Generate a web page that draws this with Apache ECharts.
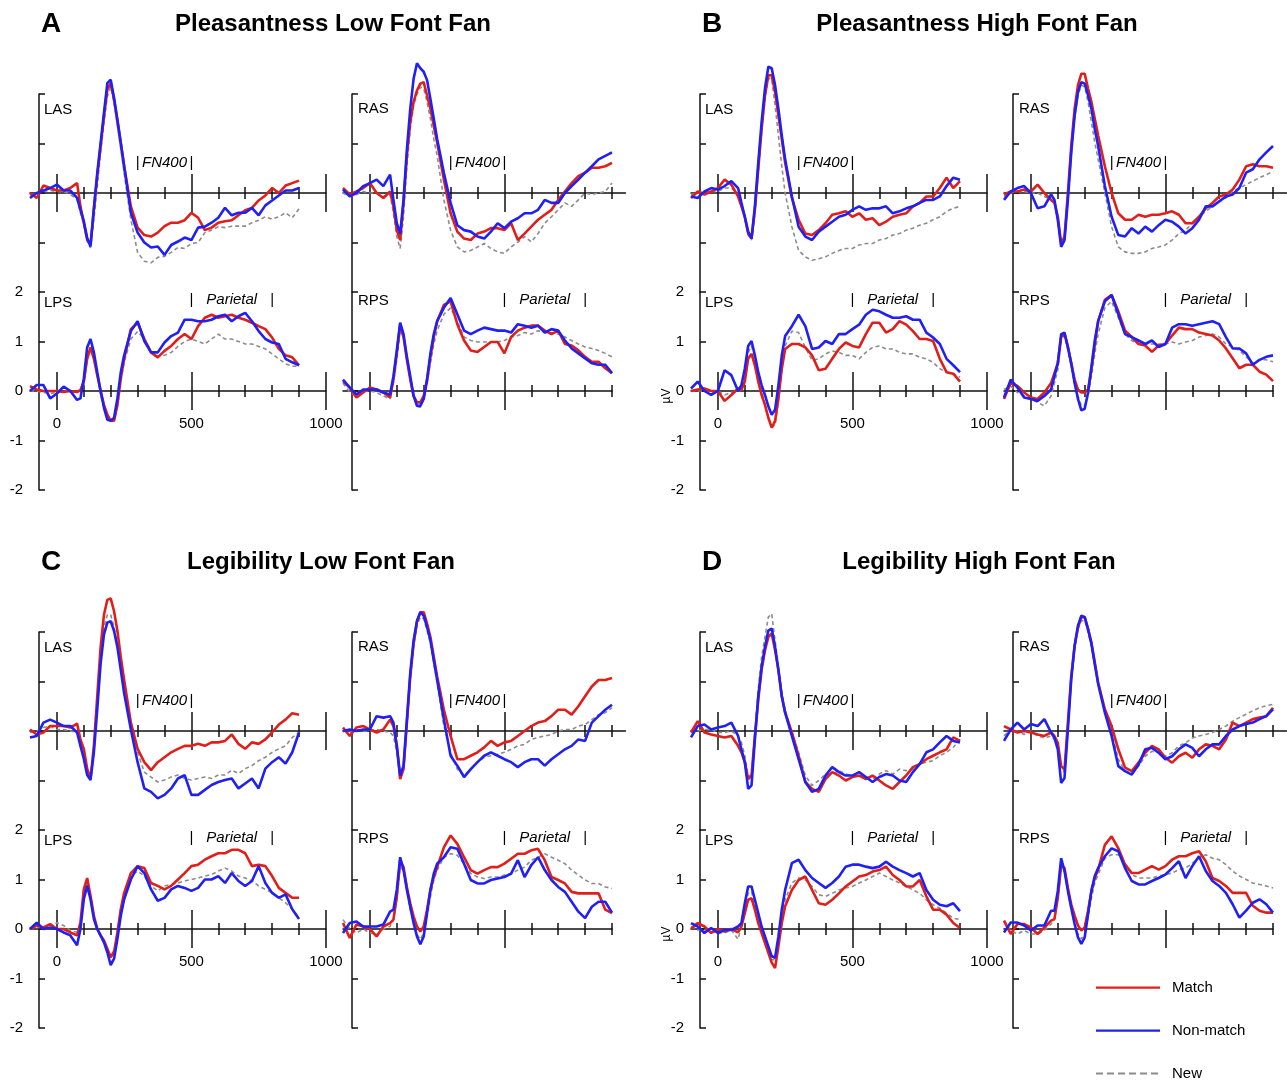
<!DOCTYPE html>
<html>
<head>
<meta charset="utf-8">
<style>
html, body { margin: 0; padding: 0; background: #fff; }
#chart { width: 1287px; height: 1085px; }
</style>
<script src="https://cdn.jsdelivr.net/npm/echarts@6/dist/echarts.min.js"></script>
</head>
<body>
<div id="chart"></div>
<script>
// time points (ms), denser around the early peaks
const ms = [-100, -75, -50, -25, 0, 25, 50, 75,
  87.5, 100, 112.5, 125, 137.5, 150, 162.5, 175, 187.5, 200, 212.5, 225, 237.5, 250,
  275, 300, 325, 350, 375, 400, 425, 450, 475, 500, 525, 550, 575, 600, 625, 650, 675, 700, 725, 750, 775, 800, 825, 850, 875, 900];

// A - Pleasantness Low Font Fan (µV)
const aLasMatch = [0.0, -0.1, 0.15, 0.1, 0.05, 0.05, 0.1, 0.2,
  -0.27, -0.6, -0.94, -1.04, -0.34, 0.34, 0.94, 1.55, 2.09, 2.22, 1.89, 1.45, 1.01, 0.54,
  -0.27, -0.7, -0.85, -0.88, -0.8, -0.67, -0.6, -0.6, -0.55, -0.4, -0.5, -0.75, -0.7, -0.6, -0.57, -0.55, -0.45, -0.35, -0.3, -0.15, -0.05, 0.1, 0.0, 0.15, 0.2, 0.25];
const aLasNon = [-0.1, 0.0, 0.05, 0.1, 0.17, 0.05, 0.05, -0.1,
  -0.34, -0.57, -0.91, -1.08, -0.3, 0.4, 1.01, 1.62, 2.22, 2.29, 1.92, 1.48, 1.01, 0.54,
  -0.4, -0.8, -1.0, -1.1, -1.08, -1.25, -1.05, -0.98, -0.9, -0.95, -0.7, -0.68, -0.6, -0.5, -0.3, -0.45, -0.4, -0.4, -0.3, -0.45, -0.25, -0.15, -0.05, 0.05, 0.05, 0.1];
const aLasNew = [-0.05, 0.0, 0.03, 0.05, 0.03, 0.03, -0.03, -0.13,
  -0.4, -0.64, -0.98, -1.11, -0.54, 0.13, 0.81, 1.41, 1.95, 2.14, 1.82, 1.35, 0.88, 0.4,
  -0.54, -1.2, -1.38, -1.41, -1.3, -1.28, -1.2, -1.1, -1.12, -1.02, -1.0, -0.8, -0.75, -0.68, -0.7, -0.67, -0.67, -0.67, -0.6, -0.55, -0.48, -0.53, -0.48, -0.4, -0.5, -0.32];
const aLpsMatch = [0.1, 0.03, 0.0, 0.0, 0.0, -0.02, 0.0, -0.02,
  0.02, 0.19, 0.65, 0.88, 0.65, 0.32, 0.0, -0.28, -0.48, -0.6, -0.6, -0.28, 0.25, 0.65,
  1.25, 1.38, 1.05, 0.78, 0.68, 0.81, 0.91, 1.05, 1.15, 1.05, 1.31, 1.48, 1.54, 1.48, 1.51, 1.54, 1.48, 1.44, 1.38, 1.31, 1.25, 1.08, 0.85, 0.72, 0.68, 0.52];
const aLpsNon = [0.0, 0.12, 0.12, -0.15, -0.05, 0.09, 0.0, -0.18,
  -0.15, 0.25, 0.88, 1.05, 0.78, 0.38, 0.0, -0.34, -0.58, -0.6, -0.54, -0.15, 0.38, 0.72,
  1.21, 1.41, 1.01, 0.78, 0.78, 0.98, 1.11, 1.18, 1.44, 1.44, 1.41, 1.41, 1.44, 1.51, 1.54, 1.41, 1.51, 1.58, 1.41, 1.21, 1.05, 0.98, 0.95, 0.65, 0.58, 0.52];
const aLpsNew = [0.0, 0.0, -0.03, -0.05, -0.03, 0.0, 0.0, -0.03,
  0.0, 0.12, 0.65, 0.88, 0.65, 0.32, -0.08, -0.34, -0.51, -0.6, -0.6, -0.31, 0.19, 0.58,
  1.05, 1.2, 1.05, 0.8, 0.7, 0.72, 0.78, 0.9, 1.0, 1.05, 1.0, 0.95, 1.05, 1.15, 1.05, 1.05, 1.0, 0.95, 0.95, 0.9, 0.85, 0.75, 0.65, 0.55, 0.5, 0.5];
const aRasMatch = [0.1, -0.03, 0.03, 0.1, 0.2, 0.0, -0.1, 0.03,
  -0.27, -0.75, -0.95, -0.2, 0.75, 1.43, 1.84, 2.07, 2.21, 2.24, 1.97, 1.7, 1.36, 1.02,
  0.27, -0.41, -0.78, -0.92, -0.95, -0.82, -0.78, -0.71, -0.71, -0.75, -0.61, -0.95, -0.82, -0.68, -0.54, -0.44, -0.34, -0.14, 0.03, 0.2, 0.34, 0.41, 0.51, 0.51, 0.54, 0.61];
const aRasNon = [0.07, -0.07, 0.0, 0.14, 0.2, 0.27, 0.14, 0.37,
  -0.14, -0.61, -0.82, -0.14, 0.88, 1.7, 2.31, 2.62, 2.52, 2.45, 2.28, 1.9, 1.5, 1.09,
  0.41, -0.2, -0.65, -0.75, -0.78, -0.88, -0.92, -0.78, -0.61, -0.71, -0.58, -0.51, -0.41, -0.41, -0.34, -0.14, -0.2, -0.2, 0.0, 0.14, 0.27, 0.41, 0.54, 0.68, 0.75, 0.82];
const aRasNew = [0.0, -0.07, -0.03, 0.03, 0.0, 0.0, -0.07, -0.03,
  -0.41, -0.88, -1.12, -0.48, 0.54, 1.29, 1.77, 2.0, 2.14, 2.11, 1.84, 1.5, 1.09, 0.75,
  -0.14, -0.75, -1.09, -1.19, -1.16, -1.09, -1.02, -1.12, -1.19, -1.22, -1.09, -0.99, -0.88, -0.99, -0.82, -0.61, -0.48, -0.34, -0.2, -0.27, -0.14, 0.0, -0.03, 0.0, 0.03, 0.2];
const aRpsMatch = [0.2, 0.07, -0.13, -0.03, 0.07, 0.03, -0.03, -0.13,
  0.23, 0.76, 1.35, 1.09, 0.63, 0.23, -0.1, -0.23, -0.23, -0.1, 0.23, 0.69, 1.09, 1.41,
  1.74, 1.81, 1.35, 1.02, 0.82, 0.79, 0.89, 0.99, 0.99, 0.76, 1.09, 1.22, 1.28, 1.32, 1.32, 1.22, 1.15, 1.22, 0.95, 0.92, 0.82, 0.69, 0.59, 0.59, 0.46, 0.36];
const aRpsNon = [0.23, 0.07, -0.07, 0.03, 0.03, 0.03, -0.03, -0.07,
  0.3, 0.82, 1.38, 1.15, 0.69, 0.3, -0.1, -0.3, -0.3, -0.16, 0.23, 0.76, 1.15, 1.41,
  1.68, 1.88, 1.55, 1.22, 1.15, 1.22, 1.28, 1.25, 1.22, 1.22, 1.18, 1.35, 1.32, 1.28, 1.32, 1.18, 1.25, 1.22, 1.02, 0.86, 0.76, 0.66, 0.56, 0.53, 0.53, 0.36];
const aRpsNew = [0.16, -0.03, -0.1, 0.0, 0.0, -0.03, -0.1, -0.16,
  0.16, 0.63, 1.22, 1.09, 0.63, 0.23, -0.1, -0.3, -0.33, -0.16, 0.13, 0.56, 0.95, 1.22,
  1.55, 1.68, 1.41, 1.09, 1.02, 0.99, 0.99, 0.99, 0.99, 1.02, 1.09, 1.12, 1.18, 1.15, 1.22, 1.18, 1.18, 1.15, 1.09, 1.02, 0.95, 0.89, 0.86, 0.82, 0.76, 0.69];

// B - Pleasantness High Font Fan
const bLasMatch = [-0.1, 0.03, -0.03, 0.03, 0.1, 0.27, 0.17, -0.07,
  -0.27, -0.48, -0.82, -0.92, -0.34, 0.48, 1.29, 1.97, 2.38, 2.38, 2.04, 1.56, 1.09, 0.61,
  -0.1, -0.54, -0.82, -0.85, -0.75, -0.61, -0.44, -0.41, -0.37, -0.48, -0.41, -0.54, -0.51, -0.65, -0.58, -0.48, -0.44, -0.41, -0.27, -0.2, -0.07, -0.07, 0.1, 0.31, 0.1, 0.24];
const bLasNon = [-0.07, -0.1, 0.03, 0.1, 0.07, 0.14, 0.24, 0.1,
  -0.2, -0.48, -0.78, -0.92, -0.27, 0.61, 1.43, 2.11, 2.55, 2.52, 2.18, 1.7, 1.16, 0.68,
  -0.07, -0.68, -0.88, -0.95, -0.78, -0.68, -0.58, -0.48, -0.44, -0.34, -0.27, -0.34, -0.31, -0.31, -0.27, -0.41, -0.37, -0.31, -0.27, -0.2, -0.14, -0.14, -0.07, 0.14, 0.31, 0.27];
const bLasNew = [-0.03, 0.0, 0.03, 0.03, 0.03, 0.1, 0.1, -0.03,
  -0.27, -0.51, -0.85, -0.95, -0.41, 0.41, 1.22, 1.9, 2.31, 2.31, 1.77, 1.16, 0.54, 0.0,
  -0.68, -1.16, -1.29, -1.36, -1.33, -1.29, -1.22, -1.16, -1.12, -1.12, -1.05, -1.02, -1.02, -0.95, -0.92, -0.85, -0.82, -0.75, -0.71, -0.65, -0.61, -0.54, -0.48, -0.37, -0.31, -0.27];
const bLpsMatch = [0.0, 0.03, 0.05, 0.0, 0.0, -0.2, -0.08, 0.05,
  0.02, 0.19, 0.65, 0.75, 0.52, 0.19, -0.08, -0.28, -0.54, -0.74, -0.61, -0.15, 0.45, 0.85,
  0.95, 0.95, 0.88, 0.72, 0.42, 0.45, 0.65, 0.85, 0.98, 0.91, 0.88, 1.15, 1.38, 1.38, 1.18, 1.25, 1.41, 1.34, 1.21, 1.05, 1.05, 1.01, 0.65, 0.38, 0.35, 0.19];
const bLpsNon = [0.05, 0.19, 0.0, -0.08, 0.0, 0.42, 0.32, 0.0,
  0.12, 0.45, 0.91, 1.01, 0.72, 0.38, 0.12, -0.08, -0.31, -0.48, -0.38, 0.12, 0.72, 1.11,
  1.31, 1.54, 1.31, 0.85, 0.88, 1.01, 0.95, 1.15, 1.15, 1.25, 1.34, 1.54, 1.64, 1.61, 1.54, 1.48, 1.48, 1.51, 1.44, 1.44, 1.18, 1.08, 0.95, 0.65, 0.52, 0.38];
const bLpsNew = [0.0, 0.0, 0.0, -0.03, 0.0, -0.08, -0.03, 0.0,
  0.02, 0.25, 0.78, 0.91, 0.65, 0.32, 0.0, -0.28, -0.54, -0.74, -0.68, -0.21, 0.45, 0.91,
  1.21, 1.18, 0.88, 0.62, 0.65, 0.75, 0.81, 0.78, 0.72, 0.72, 0.65, 0.78, 0.88, 0.91, 0.85, 0.85, 0.78, 0.75, 0.75, 0.68, 0.65, 0.58, 0.45, 0.38, 0.35, 0.28];
const bRasMatch = [-0.03, 0.03, 0.03, 0.07, 0.03, 0.17, 0.0, -0.14,
  -0.2, -0.48, -1.02, -0.88, 0.0, 0.95, 1.7, 2.18, 2.41, 2.41, 2.11, 1.84, 1.5, 1.16,
  0.54, 0.0, -0.41, -0.54, -0.54, -0.44, -0.48, -0.44, -0.44, -0.41, -0.37, -0.44, -0.61, -0.61, -0.48, -0.31, -0.2, -0.07, -0.03, 0.07, 0.27, 0.54, 0.58, 0.54, 0.54, 0.51];
const bRasNon = [-0.14, 0.03, 0.1, 0.14, 0.0, -0.31, -0.27, -0.03,
  -0.14, -0.54, -1.09, -0.95, -0.14, 0.82, 1.56, 2.04, 2.24, 2.21, 1.97, 1.7, 1.29, 0.95,
  0.14, -0.48, -0.85, -0.88, -0.71, -0.82, -0.68, -0.78, -0.65, -0.54, -0.58, -0.68, -0.82, -0.71, -0.54, -0.27, -0.27, -0.17, -0.07, -0.03, 0.1, 0.41, 0.48, 0.68, 0.82, 0.95];
const bRasNew = [-0.07, 0.0, 0.03, 0.03, 0.0, 0.0, -0.07, -0.14,
  -0.2, -0.54, -1.05, -0.99, -0.14, 0.75, 1.5, 1.97, 2.18, 2.14, 1.84, 1.43, 1.02, 0.68,
  0.0, -0.68, -1.09, -1.19, -1.22, -1.22, -1.19, -1.12, -1.09, -1.05, -0.95, -0.82, -0.75, -0.61, -0.48, -0.37, -0.27, -0.17, -0.1, 0.03, 0.1, 0.17, 0.24, 0.31, 0.37, 0.44];
const bRpsMatch = [-0.16, 0.16, 0.1, -0.03, -0.13, -0.16, -0.03, 0.16,
  0.36, 0.56, 1.09, 1.15, 0.89, 0.56, 0.23, 0.03, -0.03, -0.03, 0.03, 0.43, 0.95, 1.41,
  1.84, 1.94, 1.61, 1.22, 1.09, 0.95, 0.92, 0.79, 0.92, 0.95, 1.12, 1.28, 1.25, 1.25, 1.18, 1.15, 1.12, 1.02, 0.86, 0.66, 0.46, 0.53, 0.53, 0.39, 0.33, 0.2];
const bRpsNon = [-0.13, 0.23, 0.07, -0.13, -0.16, -0.2, -0.1, 0.03,
  0.3, 0.56, 1.15, 1.18, 0.89, 0.56, 0.16, -0.16, -0.39, -0.36, -0.03, 0.49, 1.02, 1.41,
  1.81, 1.94, 1.55, 1.15, 1.09, 1.02, 0.95, 1.02, 0.89, 0.95, 1.28, 1.35, 1.35, 1.32, 1.35, 1.38, 1.41, 1.35, 1.09, 0.86, 0.86, 0.76, 0.53, 0.63, 0.69, 0.72];
const bRpsNew = [0.03, 0.1, -0.03, -0.1, -0.16, -0.23, -0.3, -0.1,
  0.16, 0.43, 1.02, 1.12, 0.82, 0.49, 0.16, -0.1, -0.3, -0.3, -0.1, 0.3, 0.76, 1.15,
  1.68, 1.81, 1.48, 1.15, 1.02, 0.95, 0.95, 0.95, 0.95, 0.95, 0.99, 0.95, 0.99, 1.02, 1.09, 1.12, 1.15, 1.09, 0.95, 0.89, 0.82, 0.69, 0.56, 0.63, 0.63, 0.59];

// C - Legibility Low Font Fan
const cLasMatch = [0.03, -0.07, -0.03, 0.1, 0.1, 0.1, 0.07, 0.15,
  -0.17, -0.36, -0.76, -0.96, -0.3, 0.7, 1.69, 2.35, 2.65, 2.68, 2.42, 2.02, 1.49, 1.03,
  0.17, -0.36, -0.63, -0.79, -0.63, -0.53, -0.43, -0.36, -0.3, -0.3, -0.26, -0.3, -0.23, -0.23, -0.2, -0.07, -0.26, -0.36, -0.23, -0.26, -0.17, -0.03, 0.13, 0.23, 0.36, 0.33];
const cLasNon = [-0.13, -0.1, 0.17, 0.23, 0.17, 0.1, 0.1, -0.03,
  -0.3, -0.56, -0.89, -0.99, -0.43, 0.43, 1.36, 1.95, 2.19, 2.22, 2.02, 1.69, 1.23, 0.76,
  0.03, -0.63, -1.16, -1.23, -1.36, -1.29, -1.16, -0.96, -0.89, -1.29, -1.29, -1.19, -1.09, -1.03, -0.99, -0.96, -1.16, -1.06, -0.96, -1.16, -0.76, -0.63, -0.53, -0.66, -0.43, -0.03];
const cLasNew = [-0.03, 0.0, 0.07, 0.1, 0.03, 0.03, 0.0, -0.03,
  -0.23, -0.5, -0.86, -0.96, -0.36, 0.56, 1.49, 2.09, 2.35, 2.35, 2.09, 1.75, 1.29, 0.83,
  0.17, -0.43, -0.83, -0.93, -1.03, -0.99, -0.93, -0.89, -0.96, -0.99, -0.96, -0.93, -0.96, -0.89, -0.89, -0.79, -0.86, -0.76, -0.7, -0.6, -0.53, -0.43, -0.36, -0.3, -0.13, -0.03];
const cLpsMatch = [0.0, 0.07, 0.03, 0.1, 0.0, 0.0, -0.07, -0.13,
  0.13, 0.8, 1.03, 0.67, 0.27, 0.0, -0.13, -0.23, -0.4, -0.57, -0.47, -0.07, 0.4, 0.73,
  1.13, 1.27, 1.23, 0.93, 0.87, 0.8, 0.87, 1.0, 1.13, 1.27, 1.3, 1.4, 1.47, 1.53, 1.53, 1.6, 1.6, 1.53, 1.27, 1.3, 1.27, 1.07, 0.83, 0.73, 0.63, 0.63];
const cLpsNon = [0.0, 0.13, 0.0, 0.03, 0.0, -0.07, -0.13, -0.33,
  0.0, 0.6, 0.87, 0.6, 0.2, 0.0, -0.13, -0.27, -0.47, -0.73, -0.6, -0.2, 0.27, 0.6,
  1.0, 1.27, 1.13, 0.8, 0.57, 0.63, 0.8, 0.87, 0.83, 0.77, 0.83, 1.0, 1.0, 1.07, 0.93, 1.13, 0.97, 0.87, 0.97, 1.27, 0.93, 0.73, 0.63, 0.7, 0.4, 0.2];
const cLpsNew = [0.0, 0.03, 0.03, 0.0, 0.13, 0.07, -0.03, -0.07,
  0.07, 0.67, 0.93, 0.63, 0.23, 0.0, -0.17, -0.27, -0.43, -0.53, -0.43, -0.07, 0.4, 0.7,
  1.07, 1.17, 1.07, 0.87, 0.77, 0.87, 0.9, 0.93, 0.97, 1.0, 1.03, 1.07, 1.1, 1.17, 1.23, 1.17, 1.07, 1.03, 0.97, 0.87, 0.8, 0.73, 0.63, 0.53, 0.4, 0.23];
const cRasMatch = [0.07, -0.1, 0.07, 0.1, 0.03, -0.03, 0.03, 0.23,
  0.1, -0.3, -0.97, -0.77, 0.17, 1.1, 1.77, 2.2, 2.4, 2.4, 2.17, 1.9, 1.5, 1.1,
  0.43, -0.1, -0.57, -0.57, -0.5, -0.43, -0.33, -0.2, -0.3, -0.23, -0.2, -0.1, 0.0, 0.1, 0.17, 0.2, 0.3, 0.43, 0.43, 0.33, 0.5, 0.7, 0.9, 1.03, 1.03, 1.07];
const cRasNon = [0.0, 0.03, 0.0, 0.03, 0.03, 0.3, 0.27, 0.3,
  0.17, -0.3, -0.9, -0.7, 0.23, 1.17, 1.83, 2.23, 2.4, 2.33, 2.1, 1.83, 1.43, 1.03,
  0.23, -0.5, -0.7, -0.93, -0.77, -0.63, -0.5, -0.43, -0.5, -0.57, -0.63, -0.73, -0.63, -0.57, -0.57, -0.7, -0.57, -0.47, -0.37, -0.3, -0.17, -0.2, 0.17, 0.3, 0.43, 0.53];
const cRasNew = [0.0, -0.03, 0.03, 0.0, 0.0, 0.03, 0.0, -0.03,
  -0.1, -0.43, -0.93, -0.77, 0.1, 1.03, 1.7, 2.13, 2.3, 2.27, 2.03, 1.77, 1.37, 0.97,
  0.1, -0.43, -0.77, -0.9, -0.77, -0.63, -0.53, -0.5, -0.47, -0.43, -0.37, -0.3, -0.27, -0.17, -0.13, -0.1, -0.07, 0.0, 0.03, 0.03, 0.1, 0.13, 0.23, 0.33, 0.37, 0.47];
const cRpsMatch = [0.12, -0.18, 0.09, 0.05, 0.0, -0.15, 0.05, 0.12,
  0.19, 0.65, 1.39, 1.25, 0.85, 0.52, 0.25, 0.05, -0.05, 0.05, 0.39, 0.79, 1.05, 1.25,
  1.65, 1.89, 1.72, 1.45, 1.19, 1.12, 1.19, 1.25, 1.25, 1.32, 1.42, 1.52, 1.52, 1.59, 1.62, 1.39, 1.05, 0.99, 0.92, 0.75, 0.72, 0.72, 0.72, 0.72, 0.39, 0.32];
const cRpsNon = [-0.08, 0.12, 0.15, 0.05, 0.05, 0.05, 0.09, 0.35,
  0.39, 0.79, 1.45, 1.19, 0.79, 0.45, 0.12, -0.15, -0.31, -0.15, 0.32, 0.79, 1.12, 1.32,
  1.45, 1.65, 1.62, 1.32, 0.99, 0.92, 0.92, 0.99, 1.02, 1.05, 1.12, 1.39, 1.05, 1.29, 1.45, 1.19, 0.99, 0.85, 0.75, 0.55, 0.35, 0.22, 0.45, 0.55, 0.55, 0.33];
const cRpsNew = [0.19, 0.0, -0.08, 0.0, -0.08, -0.11, 0.0, 0.05,
  0.19, 0.59, 1.25, 1.19, 0.79, 0.39, 0.12, -0.11, -0.21, -0.08, 0.25, 0.65, 0.99, 1.19,
  1.45, 1.52, 1.49, 1.32, 1.12, 1.05, 1.02, 1.05, 1.05, 1.09, 1.12, 1.19, 1.25, 1.39, 1.45, 1.52, 1.45, 1.39, 1.32, 1.19, 1.09, 0.99, 0.92, 0.92, 0.85, 0.82];

// D - Legibility High Font Fan
const dLasMatch = [-0.03, 0.2, -0.03, -0.07, -0.1, -0.13, -0.1, -0.3,
  -0.43, -0.63, -0.97, -0.9, -0.1, 0.63, 1.23, 1.63, 1.9, 1.97, 1.63, 1.23, 0.7, 0.37,
  -0.03, -0.5, -1.03, -1.17, -1.23, -0.97, -0.83, -0.9, -1.0, -0.93, -0.9, -0.97, -0.9, -1.0, -1.1, -1.17, -1.03, -0.9, -0.73, -0.67, -0.57, -0.5, -0.43, -0.37, -0.13, -0.2];
const dLasNon = [-0.13, 0.1, 0.13, 0.03, 0.07, 0.1, 0.17, -0.1,
  -0.37, -0.63, -1.17, -1.1, -0.17, 0.7, 1.3, 1.7, 2.03, 2.07, 1.7, 1.23, 0.7, 0.37,
  -0.1, -0.57, -1.03, -1.23, -1.17, -0.9, -0.73, -0.83, -0.9, -0.9, -0.83, -0.93, -1.03, -0.93, -0.87, -0.9, -1.0, -1.03, -0.83, -0.67, -0.43, -0.37, -0.23, -0.1, -0.2, -0.23];
const dLasNew = [-0.03, 0.0, 0.03, 0.03, -0.03, -0.03, 0.0, -0.1,
  -0.23, -0.5, -0.9, -0.9, -0.03, 0.83, 1.5, 1.9, 2.3, 2.37, 1.83, 1.3, 0.77, 0.43,
  -0.03, -0.43, -0.9, -1.1, -1.0, -0.87, -0.87, -0.8, -0.87, -0.9, -0.9, -0.93, -0.97, -0.87, -0.8, -0.87, -0.77, -0.8, -0.77, -0.67, -0.63, -0.6, -0.5, -0.43, -0.33, -0.17];
const dLpsMatch = [0.0, 0.12, 0.05, -0.08, 0.0, -0.05, 0.0, -0.07,
  0.05, 0.32, 0.59, 0.62, 0.39, 0.12, -0.08, -0.28, -0.48, -0.68, -0.79, -0.35, 0.12, 0.46,
  0.79, 0.99, 1.06, 0.79, 0.52, 0.49, 0.59, 0.72, 0.86, 0.96, 1.06, 1.09, 1.16, 1.19, 1.26, 1.09, 0.99, 0.86, 0.86, 0.99, 0.66, 0.39, 0.39, 0.29, 0.12, 0.02];
const dLpsNon = [0.12, 0.05, -0.08, 0.02, -0.08, -0.02, -0.02, 0.05,
  0.12, 0.52, 0.86, 0.86, 0.59, 0.32, 0.05, -0.15, -0.35, -0.55, -0.58, -0.15, 0.39, 0.79,
  1.33, 1.4, 1.19, 1.03, 0.93, 0.83, 0.93, 1.06, 1.26, 1.3, 1.3, 1.26, 1.23, 1.26, 1.36, 1.26, 1.19, 1.13, 1.06, 1.13, 0.79, 0.59, 0.49, 0.46, 0.52, 0.36];
const dLpsNew = [0.05, -0.02, -0.02, -0.05, -0.08, -0.08, -0.02, -0.21,
  0.05, 0.39, 0.72, 0.76, 0.46, 0.19, -0.05, -0.25, -0.45, -0.62, -0.62, -0.21, 0.26, 0.59,
  0.93, 1.03, 0.99, 0.86, 0.69, 0.66, 0.72, 0.79, 0.83, 0.86, 0.93, 0.99, 1.06, 1.13, 1.06, 0.99, 0.93, 0.86, 0.79, 0.72, 0.59, 0.49, 0.42, 0.32, 0.22, 0.19];
const dRasMatch = [0.1, 0.03, -0.03, 0.0, -0.03, -0.07, -0.1, -0.03,
  -0.1, -0.24, -0.71, -0.78, 0.17, 1.11, 1.72, 2.09, 2.3, 2.3, 2.06, 1.79, 1.39, 0.98,
  0.44, 0.1, -0.37, -0.74, -0.81, -0.64, -0.44, -0.3, -0.37, -0.54, -0.64, -0.51, -0.44, -0.54, -0.37, -0.27, -0.3, -0.37, -0.17, 0.17, 0.1, 0.17, 0.24, 0.27, 0.3, 0.47];
const dRasNon = [-0.2, 0.03, 0.17, 0.03, 0.14, 0.1, 0.24, -0.03,
  -0.14, -0.37, -1.05, -0.95, 0.03, 1.05, 1.72, 2.13, 2.33, 2.3, 2.06, 1.76, 1.35, 0.95,
  0.37, -0.1, -0.71, -0.81, -0.88, -0.68, -0.37, -0.34, -0.44, -0.57, -0.51, -0.37, -0.27, -0.34, -0.51, -0.37, -0.27, -0.27, -0.1, 0.03, 0.1, 0.14, 0.17, 0.24, 0.3, 0.44];
const dRasNew = [-0.1, 0.03, 0.0, -0.07, 0.0, -0.1, -0.14, -0.1,
  -0.17, -0.3, -0.71, -0.84, 0.1, 1.01, 1.66, 2.06, 2.23, 2.23, 1.99, 1.72, 1.32, 0.98,
  0.44, -0.03, -0.57, -0.81, -0.84, -0.71, -0.51, -0.41, -0.44, -0.51, -0.44, -0.3, -0.24, -0.14, -0.1, -0.07, -0.03, 0.03, 0.1, 0.2, 0.27, 0.34, 0.41, 0.47, 0.51, 0.54];
const dRpsMatch = [0.17, -0.1, 0.1, 0.1, 0.03, -0.1, 0.03, 0.17,
  0.2, 0.63, 1.3, 1.23, 0.83, 0.5, 0.27, 0.07, -0.03, 0.03, 0.37, 0.77, 1.03, 1.2,
  1.7, 1.87, 1.63, 1.3, 1.13, 1.13, 1.2, 1.27, 1.2, 1.27, 1.4, 1.47, 1.47, 1.53, 1.57, 1.37, 1.03, 0.97, 0.87, 0.73, 0.73, 0.73, 0.47, 0.37, 0.33, 0.33];
const dRpsNon = [-0.07, 0.13, 0.13, 0.07, -0.03, 0.07, 0.07, 0.37,
  0.37, 0.77, 1.43, 1.17, 0.77, 0.43, 0.1, -0.17, -0.3, -0.17, 0.3, 0.77, 1.07, 1.23,
  1.47, 1.63, 1.57, 1.23, 0.97, 0.9, 0.9, 0.97, 1.03, 1.1, 1.23, 1.37, 1.03, 1.27, 1.47, 1.17, 0.97, 0.87, 0.73, 0.5, 0.23, 0.37, 0.53, 0.6, 0.5, 0.33];
const dRpsNew = [0.17, -0.03, -0.1, -0.03, -0.1, -0.1, -0.03, 0.1,
  0.2, 0.57, 1.23, 1.17, 0.77, 0.37, 0.1, -0.1, -0.2, -0.1, 0.23, 0.63, 0.93, 1.1,
  1.43, 1.5, 1.5, 1.33, 1.1, 1.03, 1.03, 1.03, 1.07, 1.1, 1.13, 1.2, 1.23, 1.33, 1.43, 1.5, 1.43, 1.4, 1.3, 1.17, 1.07, 1.0, 0.93, 0.9, 0.87, 0.83];

const panels = [
  { letter: 'A', title: 'Pleasantness Low Font Fan', dx: 0, dy: 0, titleX: 333, unit: false,
    LAS: [aLasMatch, aLasNon, aLasNew], RAS: [aRasMatch, aRasNon, aRasNew],
    LPS: [aLpsMatch, aLpsNon, aLpsNew], RPS: [aRpsMatch, aRpsNon, aRpsNew] },
  { letter: 'B', title: 'Pleasantness High Font Fan', dx: 661, dy: 0, titleX: 316, unit: true,
    LAS: [bLasMatch, bLasNon, bLasNew], RAS: [bRasMatch, bRasNon, bRasNew],
    LPS: [bLpsMatch, bLpsNon, bLpsNew], RPS: [bRpsMatch, bRpsNon, bRpsNew] },
  { letter: 'C', title: 'Legibility Low Font Fan', dx: 0, dy: 538, titleX: 321, unit: false,
    LAS: [cLasMatch, cLasNon, cLasNew], RAS: [cRasMatch, cRasNon, cRasNew],
    LPS: [cLpsMatch, cLpsNon, cLpsNew], RPS: [cRpsMatch, cRpsNon, cRpsNew] },
  { letter: 'D', title: 'Legibility High Font Fan', dx: 661, dy: 538, titleX: 318, unit: true,
    LAS: [dLasMatch, dLasNon, dLasNew], RAS: [dRasMatch, dRasNon, dRasNew],
    LPS: [dLpsMatch, dLpsNon, dLpsNew], RPS: [dRpsMatch, dRpsNon, dRpsNew] }
];

const FONT = '"Liberation Sans", Arial, Helvetica, sans-serif';
const RED = '#e01e1a';
const BLUE = '#2020f5';
const GRAY = '#8c8c8c';
const INK = '#111';

const PX_MS = 0.269;
const ROW_H = 198;
const cols = {
  L: { gridX: 30, axisX: 39, labelX: 44 },
  R: { gridX: 343, axisX: 352, labelX: 358 }
};
const subplots = [
  { key: 'LAS', col: 'L', top: 94, xMax: 1000, win: 'FN400', labelY: 110 },
  { key: 'RAS', col: 'R', top: 94, xMax: 950, win: 'FN400', labelY: 109 },
  { key: 'LPS', col: 'L', top: 292, xMax: 1000, win: 'Parietal', labelY: 303, tickLabels: true },
  { key: 'RPS', col: 'R', top: 292, xMax: 900, win: 'Parietal', labelY: 301 }
];
const windows = { FN400: [300, 500, 163], Parietal: [500, 800, 300] };
const smallTicks = [100, 200, 300, 400, 600, 700, 800, 900];

// legend keys drawn as plain line / dashed line (thin invisible slivers fix the 64x14 box)
const BOX = 'M0,0H0.01V14H0Z M63.99,0H64V14H63.99Z ';
const SOLID_KEY = 'path://' + BOX + 'M0,6H64V8.2H0Z';
const DASH_KEY = 'path://' + BOX + 'M0,6H7V8H0Z M11,6H18V8H11Z M22,6H29V8H22Z M33,6H40V8H33Z M44,6H51V8H44Z M55,6H62V8H55Z';

function txt(x, y, s, font, align, extra) {
  return Object.assign({
    type: 'text', x: x, y: y, silent: true,
    style: { text: s, font: font, fill: '#000', align: align, verticalAlign: 'middle',
             textAlign: align, textVerticalAlign: 'middle' }
  }, extra || {});
}

const grids = [], xAxes = [], yAxes = [], series = [], graphics = [];

panels.forEach(p => {
  graphics.push(txt(p.dx + 51, p.dy + 24, p.letter, 'bold 28px ' + FONT, 'center'));
  graphics.push(txt(p.dx + p.titleX, p.dy + 24, p.title, 'bold 24px ' + FONT, 'center'));
  if (p.unit) {
    graphics.push(txt(p.dx + 6, p.dy + 396, 'µV', '12px ' + FONT, 'center', { rotation: Math.PI / 2 }));
  }

  subplots.forEach(sp => {
    const c = cols[sp.col];
    const gi = grids.length;
    const left = p.dx + c.gridX;
    const top = p.dy + sp.top;
    grids.push({ left: left, top: top, width: (sp.xMax + 100) * PX_MS, height: ROW_H, outerBoundsMode: 'none' });

    yAxes.push({
      gridIndex: gi, type: 'value', min: -2, max: 2, interval: 1, position: 'left',
      offset: -(c.axisX - c.gridX),
      axisLine: { show: true, onZero: false, lineStyle: { color: INK, width: 1.5 } },
      axisTick: { show: true, inside: true, length: 6, lineStyle: { color: INK, width: 1.5 } },
      axisLabel: { show: !!sp.tickLabels, margin: 16, color: '#000', fontSize: 15, fontFamily: FONT },
      splitLine: { show: false }
    });

    const big = sp.xMax >= 1000 ? [0, 500, 1000] : [0, 500];
    // labels of an onZero axis stay at the grid bottom, so pull them up to the zero line
    const xAxis = (ticks, len, inside, lineShown, labels) => ({
      gridIndex: gi, type: 'value', min: -100, max: sp.xMax, position: 'bottom',
      axisLine: { show: lineShown, onZero: true, onZeroAxisIndex: gi, lineStyle: { color: INK, width: 1.5 } },
      axisTick: { show: true, customValues: ticks, length: len, inside: inside, lineStyle: { color: INK, width: 1.5 } },
      axisLabel: labels
        ? { show: true, customValues: big, margin: -74, color: '#000', fontSize: 15, fontFamily: FONT,
            formatter: v => String(v) }
        : { show: false },
      splitLine: { show: false }
    });
    const xi = xAxes.length;
    xAxes.push(
      xAxis(smallTicks, 6, false, true, false),
      xAxis(smallTicks, 6, true, false, false),
      xAxis(big, 19, false, false, !!sp.tickLabels),
      xAxis(big, 19, true, false, false)
    );

    const [match, non, neu] = p[sp.key];
    const line = (name, vals, color, width, type) => ({
      type: 'line', name: name, xAxisIndex: xi, yAxisIndex: gi,
      data: ms.map((t, i) => [t, vals[i]]),
      symbol: 'none', showSymbol: false, clip: false, silent: true,
      color: color, itemStyle: { color: color },
      lineStyle: { color: color, width: width, type: type }
    });
    series.push(
      line('New', neu, GRAY, 1.6, [4, 3]),
      line('Match', match, RED, 2.6, 'solid'),
      line('Non-match', non, BLUE, 2.6, 'solid')
    );

    // electrode label and analysis window marker
    graphics.push(txt(p.dx + c.labelX, p.dy + sp.labelY, sp.key, '15px ' + FONT, 'left'));
    const w = windows[sp.win];
    const xOf = t => p.dx + c.gridX + (t + 100) * PX_MS;
    graphics.push(txt(xOf(w[0]), p.dy + w[2], '|', '15px ' + FONT, 'center'));
    graphics.push(txt(xOf(w[1]), p.dy + w[2], '|', '15px ' + FONT, 'center'));
    graphics.push(txt(xOf((w[0] + w[1]) / 2), p.dy + w[2], sp.win, 'italic 15px ' + FONT, 'center'));
  });
});

const chart = echarts.init(document.getElementById('chart'));
chart.setOption({
  animation: false,
  backgroundColor: '#fff',
  textStyle: { fontFamily: FONT },
  legend: {
    data: [
      { name: 'Match', icon: SOLID_KEY },
      { name: 'Non-match', icon: SOLID_KEY },
      { name: 'New', icon: DASH_KEY }
    ],
    orient: 'vertical', left: 1096, top: 980, padding: 0,
    itemWidth: 64, itemHeight: 14, itemGap: 28,
    selectedMode: false,
    itemStyle: { borderWidth: 0 },
    textStyle: { fontFamily: FONT, fontSize: 15, color: '#000', padding: [0, 0, 0, 7] }
  },
  grid: grids,
  xAxis: xAxes,
  yAxis: yAxes,
  series: series,
  graphic: graphics
});
</script>
</body>
</html>
